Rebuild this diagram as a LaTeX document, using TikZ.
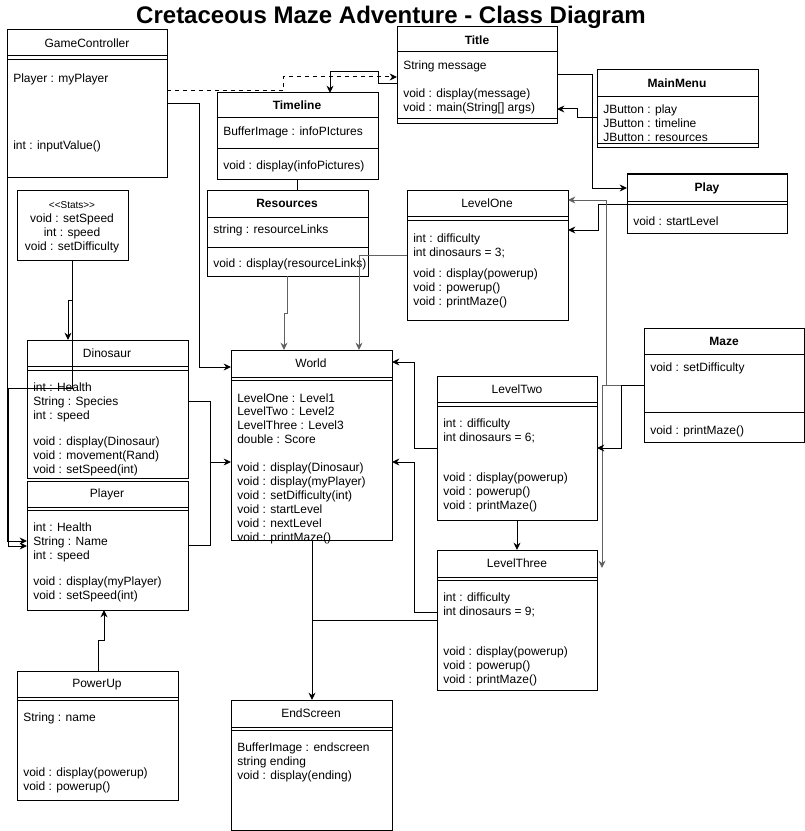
\documentclass[tikz,border=0pt]{standalone}
\usepackage{fontspec}
\setmainfont{Liberation Sans}
\usetikzlibrary{fit,arrows.meta}
\tikzset{
  box/.style={draw, line width=0.75pt, inner sep=0pt, outer sep=0pt},
  sepline/.style={line width=0.75pt},
  txt/.style={anchor=west, inner sep=0pt, font=\fontsize{9}{10}\selectfont, text height=6.6pt, text depth=1.9pt, yshift=-1.2pt},
  ctxt/.style={txt, anchor=center},
  hdr/.style={ctxt},
  bhdr/.style={ctxt, font=\fontsize{9}{10}\selectfont\bfseries},
  wire/.style={line width=0.75pt},
  arr/.style={wire, -{Stealth[length=5.5pt,width=5.2pt]}},
  graywire/.style={draw=black!62},
}
\newcommand\cbox[5]{\node[box, fit={(#2,#3) (#4,#5)}] (#1) {};}
\newcommand\csep[2]{\draw[sepline] (#1.west |- 0,#2) -- (#1.east |- 0,#2);}
\begin{document}
\begin{tikzpicture}[x=0.75pt,y=-0.75pt]
\useasboundingbox (0,0) rectangle (805,831);
\node[font=\fontsize{18}{20}\selectfont\bfseries, inner sep=0pt, text height=13pt, text depth=3.7pt] (maintitle) at (391,17) {Cretaceous Maze Adventure - Class Diagram};

% GameController
\cbox{gc}{7}{30}{167}{177}
\node[hdr] (gct) at (87,43) {GameController};
\csep{gc}{56}\csep{gc}{60}
\node[txt] (gc1) at (13,78) {Player : myPlayer};
\node[txt] (gc2) at (13,145) {int : inputValue()};

% Title
\cbox{ti}{397}{27}{557}{124}
\node[bhdr] (tit) at (477,40) {Title};
\csep{ti}{52}\csep{ti}{119}
\node[txt] (ti1) at (403,65) {String message};
\node[txt] (ti2) at (403,93) {void : display(message)};
\node[txt] (ti3) at (403,107) {void : main(String[] args)};

% MainMenu
\cbox{mm}{597}{70}{758}{148}
\node[bhdr] (mmt) at (677,83) {MainMenu};
\csep{mm}{97}\csep{mm}{144}
\node[txt] (mm1) at (603,109) {JButton : play};
\node[txt] (mm2) at (603,123) {JButton : timeline};
\node[txt] (mm3) at (603,137) {JButton : resources};

% Play
\cbox{pl}{627}{174}{787}{233}
\node[bhdr] (plt) at (707,187) {Play};
\csep{pl}{201}\csep{pl}{204}
\node[txt] (pl1) at (633,221) {void : startLevel};

% Timeline
\cbox{tl}{217}{93}{378}{179}
\node[bhdr] (tlt) at (297,105) {Timeline};
\csep{tl}{118}\csep{tl}{149}
\node[txt] (tl1) at (223,131) {BufferImage : infoPIctures};
\node[txt] (tl2) at (223,165) {void : display(infoPictures)};

% Resources
\cbox{rs}{207}{190}{368}{276}
\node[bhdr] (rst) at (287,203) {Resources};
\csep{rs}{217}\csep{rs}{247}
\node[txt] (rs1) at (213,229) {string : resourceLinks};
\node[txt] (rs2) at (213,263) {void : display(resourceLinks)};

% Stats
\cbox{st}{17}{190}{128}{260}
\node[ctxt, font=\fontsize{7.5}{9}\selectfont] (st0) at (72,204) {{<}{<}Stats{>}{>}};
\node[ctxt] (st1) at (72,218) {void : setSpeed};
\node[ctxt] (st2) at (72,232) {int : speed};
\node[ctxt] (st3) at (72,246) {void : setDifficulty};

% LevelOne
\cbox{l1}{407}{190}{568}{320}
\node[hdr] (l1t) at (487,203) {LevelOne};
\csep{l1}{216}\csep{l1}{220}
\node[txt] (l1a) at (413,238) {int : difficulty};
\node[txt] (l1b) at (413,252) {int dinosaurs = 3;};
\node[txt] (l1c) at (413,273) {void : display(powerup)};
\node[txt] (l1d) at (413,287) {void : powerup()};
\node[txt] (l1e) at (413,301) {void : printMaze()};

% Maze
\cbox{mz}{644}{328}{804}{442}
\node[bhdr] (mzt) at (724,341) {Maze};
\csep{mz}{354}\csep{mz}{412}
\node[txt] (mz1) at (650,367) {void : setDifficulty};
\node[txt] (mz2) at (650,430) {void : printMaze()};

% LevelTwo
\cbox{l2}{437}{376}{597}{520}
\node[hdr] (l2t) at (517,389) {LevelTwo};
\csep{l2}{402}\csep{l2}{406}
\node[txt] (l2a) at (443,423) {int : difficulty};
\node[txt] (l2b) at (443,437) {int dinosaurs = 6;};
\node[txt] (l2c) at (443,477) {void : display(powerup)};
\node[txt] (l2d) at (443,491) {void : powerup()};
\node[txt] (l2e) at (443,505) {void : printMaze()};

% LevelThree
\cbox{l3}{437}{550}{597}{690}
\node[hdr] (l3t) at (517,563) {LevelThree};
\csep{l3}{577}\csep{l3}{580}
\node[txt] (l3a) at (443,597) {int : difficulty};
\node[txt] (l3b) at (443,611) {int dinosaurs = 9;};
\node[txt] (l3c) at (443,651) {void : display(powerup)};
\node[txt] (l3d) at (443,665) {void : powerup()};
\node[txt] (l3e) at (443,679) {void : printMaze()};

% Dinosaur
\cbox{dn}{27}{340}{188}{478}
\node[hdr] (dnt) at (107,353) {Dinosaur};
\csep{dn}{366}\csep{dn}{370}
\node[txt] (dn1) at (33,387) {int : Health};
\node[txt] (dn2) at (33,401) {String : Species};
\node[txt] (dn3) at (33,415) {int : speed};
\node[txt] (dn4) at (33,441) {void : display(Dinosaur)};
\node[txt] (dn5) at (33,455) {void : movement(Rand)};
\node[txt] (dn6) at (33,469) {void : setSpeed(int)};

% Player
\cbox{py}{27}{481}{188}{610}
\node[hdr] (pyt) at (107,493) {Player};
\csep{py}{507}\csep{py}{510}
\node[txt] (py1) at (33,527) {int : Health};
\node[txt] (py2) at (33,541) {String : Name};
\node[txt] (py3) at (33,555) {int : speed};
\node[txt] (py4) at (33,581) {void : display(myPlayer)};
\node[txt] (py5) at (33,595) {void : setSpeed(int)};

% World
\cbox{wd}{231}{350}{392}{540}
\node[hdr] (wdt) at (311,363) {World};
\csep{wd}{377}\csep{wd}{380}
\node[txt] (wd1) at (237,398) {LevelOne : Level1};
\node[txt] (wd2) at (237,411) {LevelTwo : Level2};
\node[txt] (wd3) at (237,425) {LevelThree : Level3};
\node[txt] (wd4) at (237,439) {double : Score};
\node[txt] (wd5) at (237,467) {void : display(Dinosaur)};
\node[txt] (wd6) at (237,481) {void : display(myPlayer)};
\node[txt] (wd7) at (237,495) {void : setDifficulty(int)};
\node[txt] (wd8) at (237,509) {void : startLevel};
\node[txt] (wd9) at (237,523) {void : nextLevel};
\node[txt] (wd10) at (237,537) {void : printMaze()};

% PowerUp
\cbox{pu}{17}{671}{178}{800}
\node[hdr] (put) at (97,683) {PowerUp};
\csep{pu}{697}\csep{pu}{700}
\node[txt] (pu1) at (23,717) {String : name};
\node[txt] (pu2) at (23,772) {void : display(powerup)};
\node[txt] (pu3) at (23,786) {void : powerup()};

% EndScreen
\cbox{es}{231}{700}{392}{830}
\node[hdr] (est) at (311,713) {EndScreen};
\csep{es}{727}\csep{es}{730}
\node[txt] (es1) at (237,747) {BufferImage : endscreen};
\node[txt] (es2) at (237,761) {string ending};
\node[txt] (es3) at (237,775) {void : display(ending)};

\coordinate (mzend) at (602,568);

% connectors
\draw[arr, dashed] (gc.east |- 0,91) -- (283,91) -- (283,77) -- (ti.west |- 0,77);
\draw[arr] (ti.west |- 0,84) -- (378,84) -- (378,72) -- (330,72) -- (tl.north -| 330,0);
\draw[arr] (ti.east |- 0,75) -- (592,75) -- (592,188) -- (pl.west |- 0,188);
\draw[arr] (mm.west |- 0,118) -- (577,118) -- (577,109) -- (ti.east |- 0,109);
\draw[arr] (pl.west |- 0,204) -- (598,204) -- (598,230) -- (l1.east |- 0,230);
\draw[arr, graywire] (mz.west |- 0,385) -- (606,385) -- (606,200) -- (l1.east |- 0,200);
\draw[arr, graywire] (mz.west |- 0,385) -- (602,385) -- (mzend);
\draw[arr] (mz.west |- 0,385) -- (621,385) -- (621,448) -- (l2.east |- 0,448);
\draw[arr, graywire] (rs.south -| 287,0) -- (287,313) -- (284,313) -- (wd.north -| 284,0);
\draw[arr, graywire] (l1.west |- 0,255) -- (359,255) -- (wd.north -| 359,0);
\draw[wire] (tl.south -| 297,0) -- (rs.north -| 297,0);
\draw[arr] (gc.east |- 0,104) -- (199,104) -- (199,367) -- (wd.west |- 0,367);
\draw[arr] (gc.south west) -- (7,541) -- (py.west |- 0,541);
\draw[arr] (st.south -| 72,0) -- (72,300) -- (68,300) -- (dn.north -| 68,0);
\draw[arr] (st.south -| 72,0) -- (72,388) -- (8,388) -- (8,546) -- (py.west |- 0,546);
\draw[arr] (dn.east |- 0,401) -- (210,401) -- (210,462) -- (wd.west |- 0,462);
\draw[wire] (py.east |- 0,545) -- (210,545) -- (210,462);
\draw[arr] (pu.north -| 98,0) -- (98,640) -- (104,640) -- (py.south -| 104,0);
\draw[arr] (wd.south -| 312,0) -- (es.north -| 312,0);
\draw[wire] (l3.west |- 0,620) -- (312,620);
\draw[arr] (l2.west |- 0,448) -- (414,448) -- (414,362) -- (wd.east |- 0,362);
\draw[arr] (l3.west |- 0,612) -- (414,612) -- (414,462) -- (wd.east |- 0,462);
\draw[arr] (l2.south -| 517,0) -- (l3.north -| 517,0);
\end{tikzpicture}
\end{document}
